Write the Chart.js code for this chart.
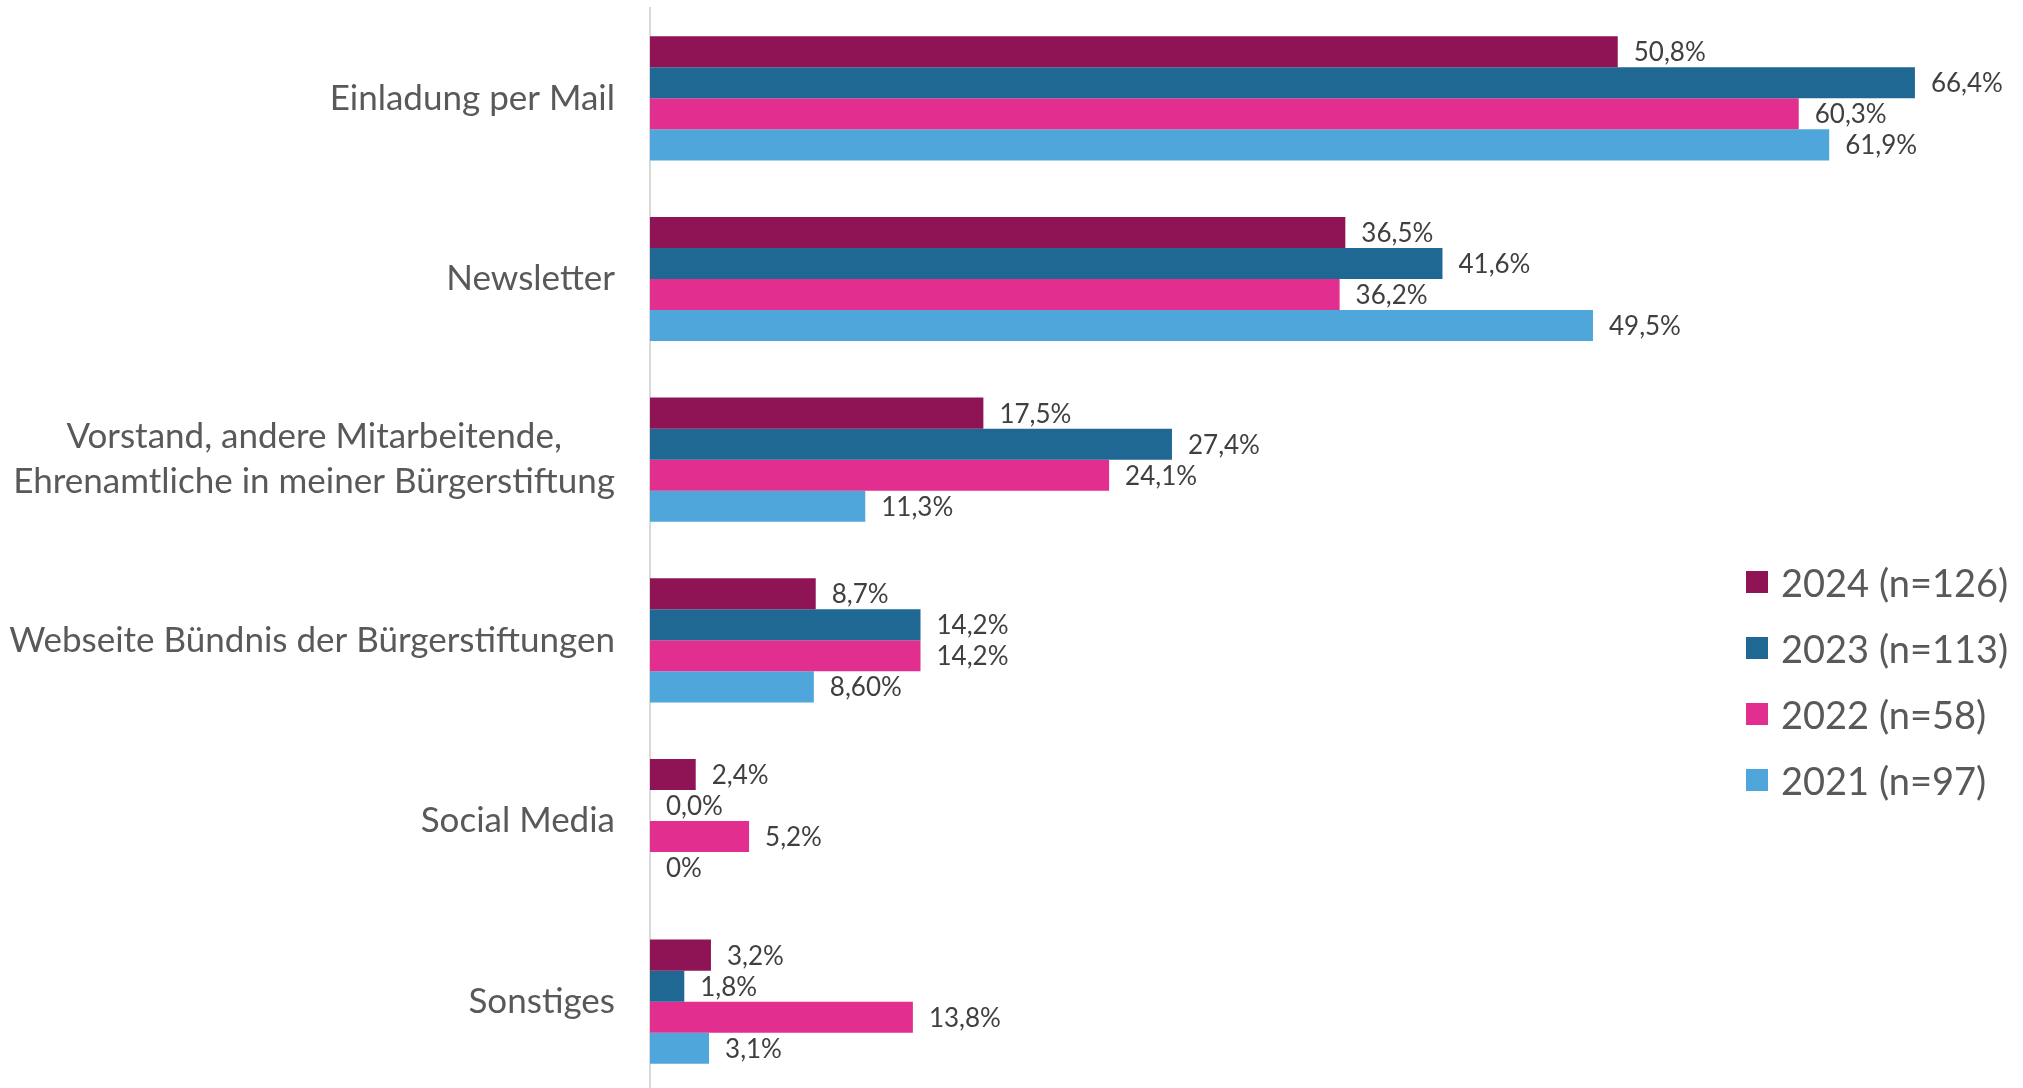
<!DOCTYPE html>
<html lang="de">
<head>
<meta charset="utf-8">
<title>Informationskanäle</title>
<script src="https://cdn.jsdelivr.net/npm/chart.js@4.4.0/dist/chart.umd.min.js"></script>
<style>
    html, body { margin: 0; padding: 0; background: #fff; overflow: hidden; }
    #wrap { position: relative; width: 2023px; height: 1092px; }
    #legend {
        position: absolute; left: 1746px; top: 549px;
        font-family: Lato, "Noto Sans", sans-serif; font-size: 38px; color: #595959;
    }
    .legend-row { display: flex; align-items: center; height: 66px; }
    .legend-box { width: 22px; height: 22px; margin-right: 13px; }
</style>
</head>
<body>
<div id="wrap">
    <canvas id="chart" width="2023" height="1092"></canvas>
    <div id="legend"></div>
</div>
<script>
// Kategorien (Y-Achse)
const categories = [
    'Einladung per Mail',
    'Newsletter',
    ['Vorstand, andere Mitarbeitende,', 'Ehrenamtliche in meiner Bürgerstiftung'],
    'Webseite Bündnis der Bürgerstiftungen',
    'Social Media',
    'Sonstiges'
];

// Serien
const seriesNames = ['2024 (n=126)', '2023 (n=113)', '2022 (n=58)', '2021 (n=97)'];
const seriesColors = ['#8f1456', '#1f6894', '#e22e8f', '#4ea6db'];

const values2024 = [50.8, 36.5, 17.5, 8.7, 2.4, 3.2];
const values2023 = [66.4, 41.6, 27.4, 14.2, 0.0, 1.8];
const values2022 = [60.3, 36.2, 24.1, 14.2, 5.2, 13.8];
const values2021 = [61.9, 49.5, 11.3, 8.6, 0, 3.1];

// Datenbeschriftungen wie im Original
const labels2024 = ['50,8%', '36,5%', '17,5%', '8,7%', '2,4%', '3,2%'];
const labels2023 = ['66,4%', '41,6%', '27,4%', '14,2%', '0,0%', '1,8%'];
const labels2022 = ['60,3%', '36,2%', '24,1%', '14,2%', '5,2%', '13,8%'];
const labels2021 = ['61,9%', '49,5%', '11,3%', '8,60%', '0%', '3,1%'];

const seriesValues = [values2024, values2023, values2022, values2021];
const seriesLabels = [labels2024, labels2023, labels2022, labels2021];

const fontFamily = 'Lato, "Noto Sans", sans-serif';

// Wertebeschriftung rechts neben den Balken
const valueLabelPlugin = {
    id: 'valueLabels',
    afterDatasetsDraw(chart) {
        const ctx = chart.ctx;
        ctx.save();
        ctx.font = '26px ' + fontFamily;
        ctx.fillStyle = '#404040';
        ctx.textAlign = 'left';
        ctx.textBaseline = 'middle';
        chart.data.datasets.forEach((ds, di) => {
            const meta = chart.getDatasetMeta(di);
            meta.data.forEach((bar, i) => {
                ctx.fillText(seriesLabels[di][i], bar.x + 16, bar.y + 1);
            });
        });
        ctx.restore();
    }
};

// Kategorienbeschriftung: Block rechtsbündig, Zeilen zentriert
const categoryLabelPlugin = {
    id: 'categoryLabels',
    afterDraw(chart) {
        const ctx = chart.ctx;
        const scale = chart.scales.y;
        const right = chart.chartArea.left - 35;
        const lineHeight = 45;
        ctx.save();
        ctx.font = '35px ' + fontFamily;
        ctx.fillStyle = '#595959';
        ctx.textAlign = 'center';
        ctx.textBaseline = 'middle';
        categories.forEach((cat, i) => {
            const lines = Array.isArray(cat) ? cat : [cat];
            const y = scale.getPixelForTick(i);
            const blockWidth = Math.max(...lines.map(l => ctx.measureText(l).width));
            const cx = right - blockWidth / 2;
            const startY = y - (lines.length - 1) * lineHeight / 2;
            lines.forEach((line, li) => {
                ctx.fillText(line, cx, startY + li * lineHeight);
            });
        });
        ctx.restore();
    }
};

const ctx = document.getElementById('chart').getContext('2d');
new Chart(ctx, {
    type: 'bar',
    data: {
        labels: categories,
        datasets: seriesNames.map((name, i) => ({
            label: name,
            data: seriesValues[i],
            backgroundColor: seriesColors[i],
            borderWidth: 0,
            categoryPercentage: 0.687,
            barPercentage: 1.0
        }))
    },
    options: {
        indexAxis: 'y',
        responsive: false,
        animation: false,
        layout: { padding: { top: 8, right: 39.5, bottom: 0, left: 0 } },
        plugins: {
            legend: { display: false },
            tooltip: { enabled: false }
        },
        scales: {
            x: {
                display: false,
                min: 0,
                max: 70
            },
            y: {
                grid: { display: false },
                border: { display: true, color: '#d9d9d9', width: 2 },
                ticks: { display: false },
                afterFit(scale) { scale.width = 650; }
            }
        }
    },
    plugins: [valueLabelPlugin, categoryLabelPlugin]
});

// Legende
const legendEl = document.getElementById('legend');
seriesNames.forEach((name, i) => {
    const row = document.createElement('div');
    row.className = 'legend-row';
    row.innerHTML = `<span class="legend-box" style="background:${seriesColors[i]}"></span><span>${name}</span>`;
    legendEl.appendChild(row);
});
</script>
</body>
</html>
